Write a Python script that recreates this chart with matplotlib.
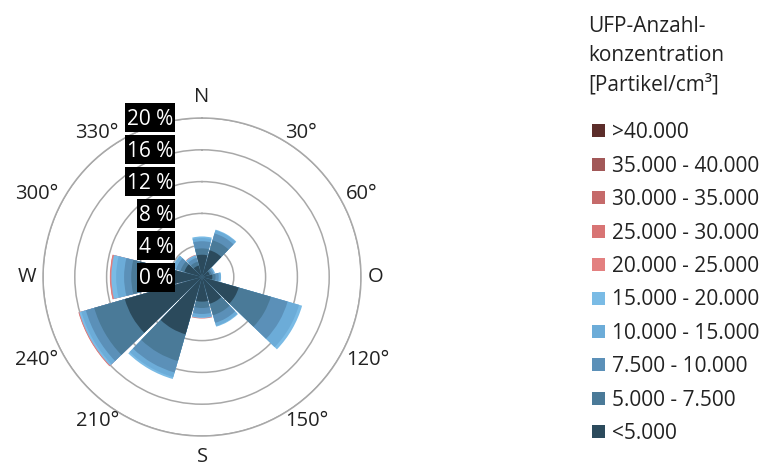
import numpy as np
import matplotlib
matplotlib.use("Agg")
import matplotlib.pyplot as plt
from matplotlib.patches import Rectangle
from matplotlib.transforms import offset_copy, IdentityTransform

plt.rcParams['font.family'] = ['Open Sans', 'DejaVu Sans']

# wind directions (degrees, clockwise from north)
directions = [0, 30, 60, 90, 120, 150, 180, 210, 240, 270, 300, 330]

# frequency share (%) per concentration class and direction
c_lt5000 = [2.8, 3.5, 1.0, 1.3, 4.8, 3.5, 3.1, 7.5, 10.1, 8.0, 2.3, 1.5]
c_5000_7500 = [0.8, 1.3, 0.25, 0.4, 4.2, 1.5, 0.8, 3.5, 4.0, 0.9, 0.5, 0.5]
c_7500_10000 = [0.9, 0.9, 0.25, 0.4, 2.2, 1.0, 0.75, 1.5, 1.1, 0.9, 0.6, 0.5]
c_10000_15000 = [0.4, 0.4, 0.15, 0.25, 1.5, 0.4, 0.4, 0.6, 0.6, 1.0, 0.4, 0.25]
c_15000_20000 = [0.2, 0.1, 0.05, 0.05, 0.4, 0.1, 0.1, 0.25, 0.25, 0.6, 0.1, 0.1]
c_20000_25000 = [0, 0, 0, 0, 0, 0, 0.08, 0, 0.08, 0.15, 0, 0.06]
c_25000_30000 = [0, 0, 0, 0, 0, 0, 0, 0, 0.04, 0.04, 0, 0]
c_30000_35000 = [0, 0, 0, 0, 0, 0, 0, 0, 0, 0, 0, 0]
c_35000_40000 = [0, 0, 0, 0, 0, 0, 0, 0, 0, 0, 0, 0]
c_gt40000 = [0, 0, 0, 0, 0, 0, 0, 0, 0, 0, 0, 0]

classes = ['<5.000', '5.000 - 7.500', '7.500 - 10.000', '10.000 - 15.000',
           '15.000 - 20.000', '20.000 - 25.000', '25.000 - 30.000',
           '30.000 - 35.000', '35.000 - 40.000', '>40.000']
colors = ['#2b4a5c', '#4a7a98', '#5b90b8', '#6cacd8', '#7abbe5',
          '#e38080', '#d87474', '#c56a6a', '#a25858', '#5c2d2a']
series = [c_lt5000, c_5000_7500, c_7500_10000, c_10000_15000, c_15000_20000,
          c_20000_25000, c_25000_30000, c_30000_35000, c_35000_40000, c_gt40000]

rticks = [0, 4, 8, 12, 16, 20]
theta_labels = ['N', '30°', '60°', 'O', '120°', '150°',
                'S', '210°', '240°', 'W', '300°', '330°']

TXT = '#222222'
W, H = 765, 465
fig = plt.figure(figsize=(W / 100, H / 100), dpi=100)

# polar area: centre (202, 277) px, radius 159 px
cx, cy, R = 202, 277, 159
ax = fig.add_axes([(cx - R) / W, (H - cy - R) / H, 2 * R / W, 2 * R / H],
                  projection='polar')
ax.set_theta_zero_location('N')
ax.set_theta_direction(-1)
ax.set_ylim(0, 20)
ax.set_axisbelow(True)

# stacked bars, drawn as cumulative totals from the outside in (no seams)
theta = np.deg2rad(directions)
width = np.deg2rad(28)
vals = np.array(series)
cum = np.cumsum(vals, axis=0)
for k in range(len(series) - 1, -1, -1):
    m = vals[k] > 0
    if not m.any():
        continue
    ax.bar(theta[m], cum[k][m], width=width, bottom=0, color=colors[k],
           linewidth=0, zorder=2 + (len(series) - k) * 0.01)

# grid
ax.set_yticks(rticks[1:])
ax.set_yticklabels([])
ax.set_xticks(theta)
ax.set_xticklabels([])
ax.xaxis.grid(False)
ax.yaxis.grid(True, color='#a8a8a8', linewidth=1.1)
ax.spines['polar'].set_color('#a8a8a8')
ax.spines['polar'].set_linewidth(1.1)

# direction labels
for ang, lab in zip(directions, theta_labels):
    s = np.sin(np.deg2rad(ang))
    if abs(s) < 1e-6:
        ha = 'center'
        va = 'bottom' if ang == 0 else 'top'
        r = 21.4
    else:
        ha = 'left' if s > 0 else 'right'
        va = 'center'
        r = 20.9
    ax.text(np.deg2rad(ang), r, lab, ha=ha, va=va, fontsize=14.5,
            color=TXT, clip_on=False)

# radial labels: white text on black boxes
trans = offset_copy(ax.transData, fig=fig, x=-28.5 * 0.72, y=-7.4 * 0.72,
                    units='points')
rlabels = []
for rv in rticks:
    t = ax.text(0, rv, f'{rv} %', transform=trans, ha='right', va='baseline',
                fontsize=15, color='white', zorder=6)
    rlabels.append((rv, t))

fig.canvas.draw()
renderer = fig.canvas.get_renderer()
for rv, t in rlabels:
    ext = t.get_window_extent(renderer)
    yc = ax.transData.transform((0, rv))[1]
    x0 = ext.x0 - 2.5
    x1 = cx - 27
    ax.add_patch(Rectangle((x0, yc - 14.5), x1 - x0, 29,
                           transform=IdentityTransform(), facecolor='black',
                           edgecolor='none', zorder=5, clip_on=False))

# legend
def fx(px):
    return px / W

def fy(py):
    return (H - py) / H

title_lines = ['UFP-Anzahl-', 'konzentration', '[Partikel/cm³]']
for i, line in enumerate(title_lines):
    fig.text(fx(588), fy(31.5 + i * 29.5), line, fontsize=15, color=TXT,
             va='baseline', ha='left')

for i, (lab, col) in enumerate(zip(classes[::-1], colors[::-1])):
    yc = 131 + i * 33.4
    fig.patches.append(Rectangle((fx(592), fy(yc + 6.5)), 13 / W, 13 / H,
                                 transform=fig.transFigure, facecolor=col,
                                 edgecolor='none'))
    fig.text(fx(612), fy(yc + 7.3), lab, fontsize=15, color=TXT,
             va='baseline', ha='left')

fig.savefig('out.png', dpi=100, facecolor='white')
